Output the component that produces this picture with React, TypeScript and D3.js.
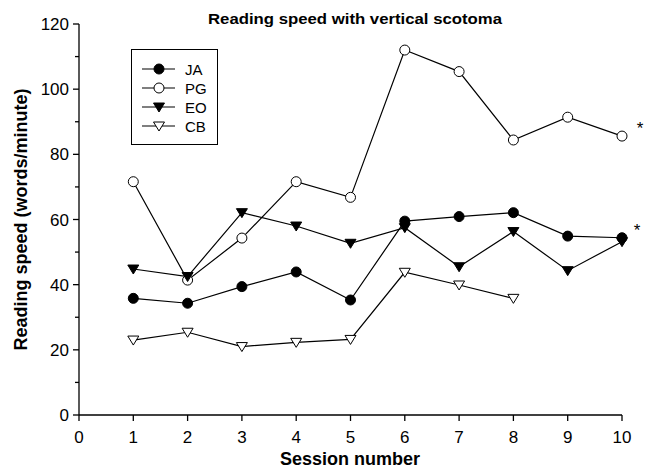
import { useEffect, useRef } from "react";
import * as d3 from "d3";

const sessions = [1, 2, 3, 4, 5, 6, 7, 8, 9, 10];
const jaValues = [35.8, 34.3, 39.4, 43.9, 35.3, 59.5, 60.9, 62.1, 54.9, 54.4];
const pgValues = [71.6, 41.4, 54.3, 71.6, 66.8, 112, 105.4, 84.4, 91.4, 85.6];
const eoValues = [44.8, 42.5, 62.1, 58, 52.7, 57.5, 45.5, 56.3, 44.3, 53.2];
const cbValues = [23.0, 25.4, 21.0, 22.3, 23.2, 43.8, 39.9, 35.8];
const xTicks = [0, 1, 2, 3, 4, 5, 6, 7, 8, 9, 10];
const yTicks = [0, 20, 40, 60, 80, 100, 120];
const yMinor = [10, 30, 50, 70, 90, 110];

const series = [
  { name: "JA", values: jaValues, shape: "circle", fill: "#000" },
  { name: "PG", values: pgValues, shape: "circle", fill: "#fff" },
  { name: "EO", values: eoValues, shape: "tri", fill: "#000" },
  { name: "CB", values: cbValues, shape: "tri", fill: "#fff" },
];

const font = "Arial, 'Liberation Sans', Helvetica, sans-serif";

const drawMarker = (g, shape, fill, x, y) => {
  if (shape === "circle") {
    g.append("circle")
      .attr("cx", x)
      .attr("cy", y)
      .attr("r", 5)
      .attr("fill", fill)
      .attr("stroke", "#000")
      .attr("stroke-width", 1);
  } else {
    g.append("path")
      .attr("d", `M ${x - 5.5} ${y - 4} L ${x + 5.5} ${y - 4} L ${x} ${y + 5} Z`)
      .attr("fill", fill)
      .attr("stroke", "#000")
      .attr("stroke-width", 1);
  }
};

export default function App() {
  const ref = useRef(null);

  useEffect(() => {
    const svg = d3.select(ref.current);
    svg.selectAll("*").remove();
    const x = d3.scaleLinear().domain([0, 10]).range([79, 622]);
    const y = d3.scaleLinear().domain([0, 120]).range([415, 24]);

    // axes
    const axis = svg.append("g").attr("stroke", "#000").attr("stroke-width", 1.3);
    axis.append("line").attr("x1", x(0)).attr("x2", x(10)).attr("y1", y(0)).attr("y2", y(0));
    axis.append("line").attr("x1", x(0)).attr("x2", x(0)).attr("y1", y(0)).attr("y2", y(120));
    xTicks.forEach((t) => {
      axis.append("line").attr("x1", x(t)).attr("x2", x(t)).attr("y1", y(0)).attr("y2", y(0) + 6);
    });
    yTicks.forEach((t) => {
      axis.append("line").attr("x1", x(0) - 6).attr("x2", x(0)).attr("y1", y(t)).attr("y2", y(t));
    });
    yMinor.forEach((t) => {
      axis.append("line").attr("x1", x(0) - 4).attr("x2", x(0)).attr("y1", y(t)).attr("y2", y(t));
    });

    svg
      .selectAll("text.xtick")
      .data(xTicks)
      .join("text")
      .attr("class", "xtick")
      .attr("x", (d) => x(d))
      .attr("y", y(0) + 28)
      .attr("text-anchor", "middle")
      .attr("font-family", font)
      .attr("font-size", 17)
      .text((d) => d);

    svg
      .selectAll("text.ytick")
      .data(yTicks)
      .join("text")
      .attr("class", "ytick")
      .attr("x", x(0) - 10)
      .attr("y", (d) => y(d) + 6)
      .attr("text-anchor", "end")
      .attr("font-family", font)
      .attr("font-size", 17)
      .text((d) => d);

    // lines and markers
    const line = d3
      .line()
      .x((_, i) => x(sessions[i]))
      .y((d) => y(d));

    series.forEach((s) => {
      svg
        .append("path")
        .attr("d", line(s.values))
        .attr("fill", "none")
        .attr("stroke", "#000")
        .attr("stroke-width", 1.2);
    });
    series.forEach((s) => {
      const g = svg.append("g");
      s.values.forEach((v, i) => drawMarker(g, s.shape, s.fill, x(sessions[i]), y(v)));
    });

    // asterisks
    [
      { v: pgValues[9], dx: 18 },
      { v: jaValues[9], dx: 15 },
    ].forEach((a) => {
      svg
        .append("text")
        .attr("x", x(10) + a.dx)
        .attr("y", y(a.v) - 2)
        .attr("font-family", font)
        .attr("font-size", 17)
        .attr("text-anchor", "middle")
        .text("*");
    });

    // legend
    const legend = svg.append("g");
    legend
      .append("rect")
      .attr("x", 131.5)
      .attr("y", 49.5)
      .attr("width", 86)
      .attr("height", 95)
      .attr("fill", "#fff")
      .attr("stroke", "#000")
      .attr("stroke-width", 1);
    series.forEach((s, i) => {
      const ly = 69 + i * 19;
      legend.append("line").attr("x1", 142).attr("x2", 175).attr("y1", ly).attr("y2", ly).attr("stroke", "#000").attr("stroke-width", 1.2);
      drawMarker(legend, s.shape, s.fill, 159, ly);
      legend
        .append("text")
        .attr("x", 185)
        .attr("y", ly + 5.5)
        .attr("font-family", font)
        .attr("font-size", 15)
        .text(s.name);
    });

    // titles
    svg
      .append("text")
      .attr("x", 355)
      .attr("y", 24)
      .attr("text-anchor", "middle")
      .attr("font-family", font)
      .attr("font-weight", "bold")
      .attr("font-size", 15)
      .attr("textLength", 294)
      .attr("lengthAdjust", "spacingAndGlyphs")
      .text("Reading speed with vertical scotoma");
    svg
      .append("text")
      .attr("x", 350)
      .attr("y", 465)
      .attr("text-anchor", "middle")
      .attr("font-family", font)
      .attr("font-weight", "bold")
      .attr("font-size", 18)
      .text("Session number");
    svg
      .append("text")
      .attr("transform", `translate(27, ${y(60)}) rotate(-90)`)
      .attr("text-anchor", "middle")
      .attr("font-family", font)
      .attr("font-weight", "bold")
      .attr("font-size", 18)
      .text("Reading speed (words/minute)");
  }, []);

  return (
    <svg
      ref={ref}
      width={660}
      height={469}
      style={{ position: "absolute", left: 0, top: 0, background: "#fff" }}
    />
  );
}
